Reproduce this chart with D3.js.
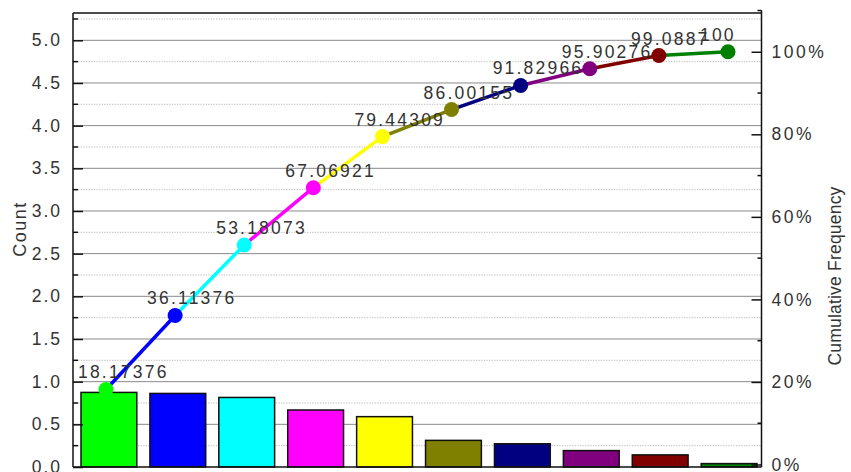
<!DOCTYPE html>
<html>
<head>
<meta charset="utf-8">
<script src="https://cdn.jsdelivr.net/npm/d3@7"></script>
<style>
  html, body { margin: 0; padding: 0; background: #fff; }
  svg { display: block; font-family: "Liberation Sans", Arial, sans-serif; }
</style>
</head>
<body>
<svg id="chart" width="851" height="472"></svg>
<script>
// ---- data ----
const categories = ["1", "2", "3", "4", "5", "6", "7", "8", "9", "10"];
const counts = [0.874, 0.862, 0.815, 0.668, 0.59, 0.312, 0.272, 0.192, 0.142, 0.04];
const cumulative = [18.17376, 36.11376, 53.18073, 67.06921, 79.44309, 86.00155, 91.82966, 95.90276, 99.0887, 100];
const cumLabels = ["18.17376", "36.11376", "53.18073", "67.06921", "79.44309", "86.00155", "91.82966", "95.90276", "99.0887", "100"];
const colors = ["#00ff00", "#0000ff", "#00ffff", "#ff00ff", "#ffff00", "#808000", "#000080", "#800080", "#800000", "#008000"];
const leftTicks = [0, 0.5, 1, 1.5, 2, 2.5, 3, 3.5, 4, 4.5, 5];
const leftMinor = [0.25, 0.75, 1.25, 1.75, 2.25, 2.75, 3.25, 3.75, 4.25, 4.75, 5.25];
const rightTicks = [0, 20, 40, 60, 80, 100];
const rightMinor = [10, 30, 50, 70, 90, 110];

// ---- layout ----
const L = 73, R = 761.5, T = 13, B = 467;
const svg = d3.select("#chart");

const y = d3.scaleLinear().domain([0, 5.32]).range([B, T]);
const y2 = d3.scaleLinear().domain([0, 110]).range([464.5, 10.5]);
const x = d3.scaleBand().domain(categories).range([77, 761]).paddingInner(0.19).paddingOuter(0.058);
const xp = d3.scalePoint().domain(categories).range([106, 728]);

// grid lines
const grid = svg.append("g");
grid.selectAll("line.minor").data(leftMinor).join("line")
  .attr("x1", L).attr("x2", R).attr("y1", d => y(d)).attr("y2", d => y(d))
  .attr("stroke", "#bdbdbd").attr("stroke-width", 1).attr("stroke-dasharray", "1.3,1.3");
grid.selectAll("line.major").data(leftTicks.filter(d => d > 0)).join("line")
  .attr("x1", L).attr("x2", R).attr("y1", d => y(d)).attr("y2", d => y(d))
  .attr("stroke", "#8a8a8a").attr("stroke-width", 1);

// bars
svg.append("g").selectAll("rect").data(counts).join("rect")
  .attr("x", (d, i) => x(categories[i]))
  .attr("width", x.bandwidth())
  .attr("y", d => y(d))
  .attr("height", d => y(0) - y(d))
  .attr("fill", (d, i) => colors[i])
  .attr("stroke", "#111").attr("stroke-width", 1.5);

// frame
svg.append("line").attr("x1", L).attr("x2", R).attr("y1", T).attr("y2", T).attr("stroke", "#111").attr("stroke-width", 1.5);

// left axis
const leftAxis = d3.axisLeft(y).tickValues(leftTicks).tickSize(-10).tickPadding(11)
  .tickFormat(d3.format(".1f"));
const gl = svg.append("g").attr("transform", `translate(${L},0)`).call(leftAxis);
gl.select(".domain").remove();
gl.append("line").attr("y1", T).attr("y2", B).attr("stroke", "#111").attr("stroke-width", 1.5);
gl.selectAll(".tick line").attr("stroke", "#111").attr("stroke-width", 1.5);
gl.selectAll(".tick text").attr("fill", "#333").style("font-size", "17.5px").style("letter-spacing", "2px")
  .attr("font-family", "Liberation Sans, Arial, sans-serif");
gl.selectAll(".minor").data(leftMinor).join("line").attr("class", "minor")
  .attr("x1", 0).attr("x2", 5).attr("y1", d => y(d)).attr("y2", d => y(d))
  .attr("stroke", "#111").attr("stroke-width", 1.5);

// bottom axis line
svg.append("line").attr("x1", L).attr("x2", R).attr("y1", B).attr("y2", B).attr("stroke", "#111").attr("stroke-width", 1.5);

// right axis
const rightAxis = d3.axisRight(y2).tickValues(rightTicks).tickSize(-10).tickPadding(10)
  .tickFormat(d => d + "%");
const gr = svg.append("g").attr("transform", `translate(${R},0)`).call(rightAxis);
gr.select(".domain").remove();
gr.append("line").attr("y1", 10.5).attr("y2", B).attr("stroke", "#111").attr("stroke-width", 1.5);
gr.selectAll(".tick line").attr("stroke", "#111").attr("stroke-width", 1.5);
gr.selectAll(".tick text").attr("fill", "#333").style("font-size", "17.5px").style("letter-spacing", "2.5px")
  .attr("font-family", "Liberation Sans, Arial, sans-serif");
gr.selectAll(".minor").data(rightMinor).join("line").attr("class", "minor")
  .attr("x1", 0).attr("x2", -4).attr("y1", d => y2(d)).attr("y2", d => y2(d))
  .attr("stroke", "#111").attr("stroke-width", 1.5);

// cumulative line segments
const segs = cumulative.slice(1).map((v, i) => ({ a: i, b: i + 1 }));
svg.append("g").selectAll("line").data(segs).join("line")
  .attr("x1", d => xp(categories[d.a])).attr("y1", d => y2(cumulative[d.a]))
  .attr("x2", d => xp(categories[d.b])).attr("y2", d => y2(cumulative[d.b]))
  .attr("stroke", d => colors[d.b]).attr("stroke-width", 3.5);

svg.append("g").selectAll("circle").data(cumulative).join("circle")
  .attr("cx", (d, i) => xp(categories[i])).attr("cy", d => y2(d)).attr("r", 7.5)
  .attr("fill", (d, i) => colors[i]);

// labels
svg.append("g").selectAll("text").data(cumulative).join("text")
  .attr("x", (d, i) => xp(categories[i]) - 28)
  .attr("y", d => y2(d) - 11)
  .attr("fill", "#333")
  .style("font-size", "17.5px").style("letter-spacing", "2.2px")
  .text((d, i) => cumLabels[i]);

// axis titles
svg.append("text").attr("transform", "translate(26,229) rotate(-90)")
  .attr("text-anchor", "middle").attr("fill", "#333")
  .style("font-size", "18px").style("letter-spacing", "1.5px").text("Count");
svg.append("text").attr("transform", "translate(841,276) rotate(-90)")
  .attr("text-anchor", "middle").attr("fill", "#333")
  .style("font-size", "17.5px").style("letter-spacing", "0.2px").text("Cumulative Frequency");
</script>
</body>
</html>
